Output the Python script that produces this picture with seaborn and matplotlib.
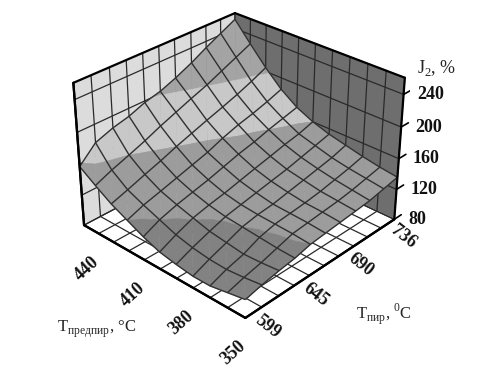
import numpy as np, matplotlib
matplotlib.use('Agg')
import matplotlib.pyplot as plt
from matplotlib.transforms import ScaledTranslation
import seaborn as sns
from mpl_toolkits.mplot3d import proj3d
from mpl_toolkits.mplot3d.art3d import Poly3DCollection

pyro_ticks = [599, 614, 630, 645, 660, 675, 690, 706, 721, 736, 751]
pre_ticks = [350, 360, 370, 380, 390, 400, 410, 420, 430, 440, 450]
pyro_labels = ['599', '', '', '645', '', '', '690', '', '', '736', '']
pre_labels = ['350', '', '', '380', '', '', '410', '', '', '440', '']
z_ticks = [80, 120, 160, 200, 240]
row_350 = [103, 108, 112, 115, 120, 122, 124, 126, 128, 132, 136]
row_360 = [99, 105, 110, 116, 122, 124, 126, 128, 131, 135, 139]
row_370 = [95, 103, 109, 118, 123, 125, 127, 130, 134, 138, 143]
row_380 = [95, 104, 112, 120, 124, 126, 130, 134, 138, 142, 148]
row_390 = [98, 107, 115, 122, 126, 130, 134, 138, 143, 148, 153]
row_400 = [102, 112, 121, 126, 130, 135, 140, 145, 150, 154, 160]
row_410 = [110, 120, 127, 132, 137, 143, 149, 154, 160, 165, 170]
row_420 = [120, 128, 134, 140, 146, 152, 160, 167, 172, 178, 185]
row_430 = [130, 137, 145, 152, 160, 167, 174, 181, 188, 196, 205]
row_440 = [143, 152, 160, 168, 177, 185, 193, 201, 210, 219, 228]
row_450 = [157, 177, 185, 190, 198, 203, 211, 221, 232, 242, 252]
band_edges = [80, 120, 160, 200, 280]
band_colors = ['#828282', '#9c9c9c', '#c8c8c8', '#a4a4a4']

sns.set_theme(style='white')
plt.rcParams['font.family'] = ['Liberation Serif', 'DejaVu Sans']
plt.rcParams['mathtext.fontset'] = 'custom'
plt.rcParams['mathtext.rm'] = 'Liberation Serif'

W, H = 487, 388
fig = plt.figure(figsize=(W / 100, H / 100), dpi=100, facecolor='white')
ax = fig.add_axes([.1236, .1413, .718, .9013], projection='3d', computed_zorder=False)
ax.patch.set_alpha(0)
xlim, ylim, zlim = (599, 751), (350, 450), (80, 260)
ax.set_xlim(*xlim); ax.set_ylim(*ylim); ax.set_zlim(*zlim)
ax.view_init(elev=30.19, azim=-136.9)
ax.set_proj_type('persp', focal_length=0.659)
ax.set_box_aspect((3.938, 3.931, 2.846))

X, Y = np.meshgrid(pyro_ticks, pre_ticks)
Z = np.array([row_350, row_360, row_370, row_380, row_390, row_400,
              row_410, row_420, row_430, row_440, row_450], float)


def clip(poly, level, keep_above):
    out = []
    n = len(poly)
    for k in range(n):
        a, b = poly[k], poly[(k + 1) % n]
        ina = a[2] >= level if keep_above else a[2] <= level
        inb = b[2] >= level if keep_above else b[2] <= level
        if ina:
            out.append(a)
        if ina != inb:
            t = (level - a[2]) / (b[2] - a[2])
            out.append(tuple(a[m] + t * (b[m] - a[m]) for m in range(3)))
    return out


polys, cols = [], []
for j in range(Z.shape[0] - 1):
    for i in range(Z.shape[1] - 1):
        p = [(X[j + a, i + b], Y[j + a, i + b], Z[j + a, i + b])
             for a, b in [(0, 0), (0, 1), (1, 1), (1, 0)]]
        for tri in ([p[0], p[1], p[2]], [p[0], p[2], p[3]]):
            for lo, hi, c in zip(band_edges[:-1], band_edges[1:], band_colors):
                q = clip(tri, lo, True)
                if len(q) >= 3:
                    q = clip(q, hi, False)
                if len(q) >= 3:
                    polys.append(q); cols.append(c)
ax.add_collection3d(Poly3DCollection(polys, facecolors=cols, edgecolors=cols,
                                     linewidths=.4, zorder=2))
ax.plot_wireframe(X, Y, Z, color='#303030', linewidth=1.0, zorder=3)

ax.set_xticks(pyro_ticks); ax.set_xticklabels([])
ax.set_yticks(pre_ticks); ax.set_yticklabels([])
ax.set_zticks(z_ticks); ax.set_zticklabels([])
ax.xaxis.set_pane_color('#6e6e6e')
ax.yaxis.set_pane_color('#dcdcdc')
ax.zaxis.set_pane_color('#ffffff')
for axis in (ax.xaxis, ax.yaxis, ax.zaxis):
    axis._axinfo['grid'].update(color='#2a2a2a', linewidth=.9, linestyle='-')
    axis._axinfo['tick'].update(inward_factor=0, outward_factor=0)
    axis.line.set_color('black')
    axis.line.set_linewidth(1.6)
ax.grid(True)

x0, x1 = xlim; y0, y1 = ylim; z0, z1 = zlim
M = ax.get_proj()


def label(x, y, z, s, dx, dy, **kw):
    px, py, _ = proj3d.proj_transform(x, y, z, M)
    tr = ax.transData + ScaledTranslation(dx / 100, dy / 100, fig.dpi_scale_trans)
    ax.text2D(px, py, s, transform=tr, fontsize=13, fontweight='bold', color='#111111',
              va='center', rotation_mode='anchor', zorder=6, **kw)


for t, s in zip(pyro_ticks, pyro_labels):
    if s:
        label(t, y0, z0, s, 22, -9, rotation=-38, ha='center')
for t, s in zip(pre_ticks, pre_labels):
    if s:
        label(x0, t, z0, s, -12, -35, rotation=42, ha='center')
for t in z_ticks:
    label(x1, y0, t, str(t), 14, 0, ha='left')
    ax.plot([x1, x1 + 8], [y0, y0], [t, t], color='black', linewidth=1.2, zorder=4)

edge = dict(color='black', linewidth=1.6, zorder=4)
ax.plot([x0, x0], [y1, y1], [z0, z1], **edge)
ax.plot([x0, x1], [y1, y1], [z1, z1], **edge)
ax.plot([x1, x1], [y0, y1], [z1, z1], **edge)
ax.plot([x1, x1], [y0, y0], [z0, z1], **edge)
ax.plot([x0, x1], [y0, y0], [z0, z0], **edge)
ax.plot([x0, x0], [y0, y1], [z0, z0], **edge)

ax.set_xlabel(''); ax.set_ylabel(''); ax.set_zlabel('')
fig.text(437 / W, 1 - 68 / H, r'J$_{\mathrm{2}}$, %', ha='center', va='center', fontsize=13)
fig.text(97 / W, 1 - 329 / H, r'T$_{\mathrm{предпир}}$, °C', ha='center', va='center', fontsize=12)
fig.text(384 / W, 1 - 314 / H, r'T$_{\mathrm{пир}}$, $^{\mathrm{0}}$C', ha='center', va='center', fontsize=12)
fig.savefig('out.png', dpi=100)
